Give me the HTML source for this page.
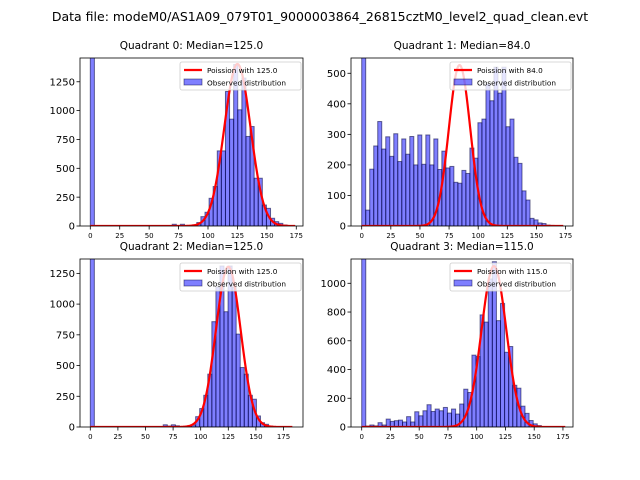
<!DOCTYPE html>
<html><head><meta charset="utf-8"><style>
body{margin:0;background:#fff}
svg{display:block;font-family:"DejaVu Sans","Liberation Sans",sans-serif}
</style></head><body>
<svg id="fig" width="640" height="480" viewBox="0 0 640 480">
<rect width="640" height="480" fill="#fff"/>
<text x="320" y="21" text-anchor="middle" font-size="12.5">Data file: modeM0/AS1A09_079T01_9000003864_26815cztM0_level2_quad_clean.evt</text>
</svg>
<script>
// Observed histogram counts (50 bins each)
const q0Counts=[2000,0,0,0,0,0,0,0,0,0,0,0,0,0,0,0,0,0,0,0,15,5,15,5,0,10,30,81,119,240,342,651,651,1166,926,1400,1007,1282,776,862,414,414,182,153,67,38,23,9,3,1];
const q1Counts=[1400,52,186,262,342,252,292,228,302,211,285,235,293,200,298,202,298,200,285,185,245,190,195,143,140,182,172,255,222,338,350,465,410,520,435,520,325,350,225,205,115,85,25,20,10,8,3,2,1,1];
const q2Counts=[2000,0,0,0,0,0,0,0,0,0,0,0,0,0,0,0,0,0,18,8,18,10,3,5,10,16,84,150,258,430,857,1137,1310,938,1310,1137,756,484,430,258,226,90,35,22,8,3,1,0,0,0];
const q3Counts=[1400,7,14,8,30,14,55,39,44,48,35,72,35,106,78,113,155,108,125,113,136,97,125,90,160,263,240,500,490,780,730,1030,1150,740,860,520,560,290,270,145,95,45,22,10,3,1,0,0,0,0];
const binWidths=[3.48,3.44,3.67,3.55];
const medians=[125.0,84.0,125.0,115.0];
const curvePeaks=[1404,527,1304,1120];
const curveEnds=[174,173,183,177];
const yTicks0=[0,250,500,750,1000,1250];
const yTicks1=[0,100,200,300,400,500];
const yTicks2=[0,250,500,750,1000,1250];
const yTicks3=[0,200,400,600,800,1000];
const xTicks=[0,25,50,75,100,125,150,175];

const NS="http://www.w3.org/2000/svg";
const svg=document.getElementById('fig');
function mk(tag,attrs,parent){const e=document.createElementNS(NS,tag);for(const k in attrs)e.setAttribute(k,attrs[k]);(parent||svg).appendChild(e);return e;}

const panels=[
 {L:80,T:58,W:223,H:168,x0:90.3,xs:1.177,ymax:1456,counts:q0Counts,yt:yTicks0},
 {L:351,T:58,W:222,H:168,x0:361.7,xs:1.165,ymax:550,counts:q1Counts,yt:yTicks1},
 {L:80,T:259,W:223,H:168,x0:90.3,xs:1.104,ymax:1367,counts:q2Counts,yt:yTicks2},
 {L:351,T:259,W:222,H:168,x0:361.7,xs:1.15,ymax:1169,counts:q3Counts,yt:yTicks3}
];

panels.forEach((p,i)=>{
  const g=mk('g',{});
  
  
  const X=v=>p.x0+v*p.xs;
  const B=p.T+p.H;
  const Y=v=>B-v/p.ymax*p.H;
  const clip=mk('clipPath',{id:'c'+i},g);
  mk('rect',{x:p.L,y:p.T,width:p.W,height:p.H},clip);
  const t=mk('text',{x:p.L+p.W/2,y:p.T-9,'text-anchor':'middle','font-size':'10.5'},g);
  t.textContent='Quadrant '+i+': Median='+medians[i].toFixed(1);
  
  
  const bars=mk('g',{'clip-path':'url(#c'+i+')'},g);
  const w=binWidths[i];
  p.counts.forEach((c,k)=>{
    if(c<=0)return;
    const r=mk('rect',{x:X(k*w),y:Y(c),width:w*p.xs,height:B-Y(c),fill:'rgba(0,0,255,0.5)',stroke:'rgba(0,0,60,0.55)','stroke-width':'1'},bars);
    
    
  });
  // Poisson (gaussian approx) curve
  const mu=medians[i],sd=Math.sqrt(mu);
  let d='';
  for(let x=0;x<=curveEnds[i];x+=0.5){const v=curvePeaks[i]*Math.exp(-0.5*((x-mu)/sd)**2);d+=(d?'L':'M')+X(x).toFixed(2)+','+Y(v).toFixed(2);}
  const line=mk('path',{d:d,fill:'none',stroke:'#ff0000','stroke-width':'2.2','clip-path':'url(#c'+i+')'},g);
  
  
  // axes frame
  const fr=mk('rect',{x:p.L,y:p.T,width:p.W,height:p.H,fill:'none',stroke:'#000','stroke-width':'0.8'},g);
  
  
  xTicks.forEach(v=>{
    mk('line',{x1:X(v),x2:X(v),y1:B,y2:B+3.5,stroke:'#000','stroke-width':'0.8'},g);
    const tl=mk('text',{x:X(v),y:B+12,'text-anchor':'middle','font-size':'7'},g);
    tl.textContent=v;
    
    
  });
  p.yt.forEach(v=>{
    mk('line',{x1:p.L-3.5,x2:p.L,y1:Y(v),y2:Y(v),stroke:'#000','stroke-width':'0.8'},g);
    const tl=mk('text',{x:p.L-5,y:Y(v)+3.6,'text-anchor':'end','font-size':'10'},g);
    tl.textContent=v;
    
    
  });
  // legend
  const lg=mk('g',{},g);
  
  
  const lx=p.L+p.W-123,ly=p.T+4;
  mk('rect',{x:lx,y:ly,width:121,height:28,rx:2,fill:'rgba(255,255,255,0.8)',stroke:'#ccc','stroke-width':'0.8'},lg);
  mk('line',{x1:lx+4,x2:lx+22,y1:ly+8,y2:ly+8,stroke:'#ff0000','stroke-width':'2.2'},lg);
  const t1=mk('text',{x:lx+27,y:ly+11,'font-size':'7.3'},lg);
  t1.textContent='Poission with '+medians[i].toFixed(1);
  
  
  mk('rect',{x:lx+4,y:ly+17,width:18,height:6,fill:'rgba(0,0,255,0.5)',stroke:'rgba(0,0,60,0.55)','stroke-width':'0.8'},lg);
  const t2=mk('text',{x:lx+27,y:ly+23.5,'font-size':'7.3'},lg);
  t2.textContent='Observed distribution';
  
  
});
</script>
</body></html>
